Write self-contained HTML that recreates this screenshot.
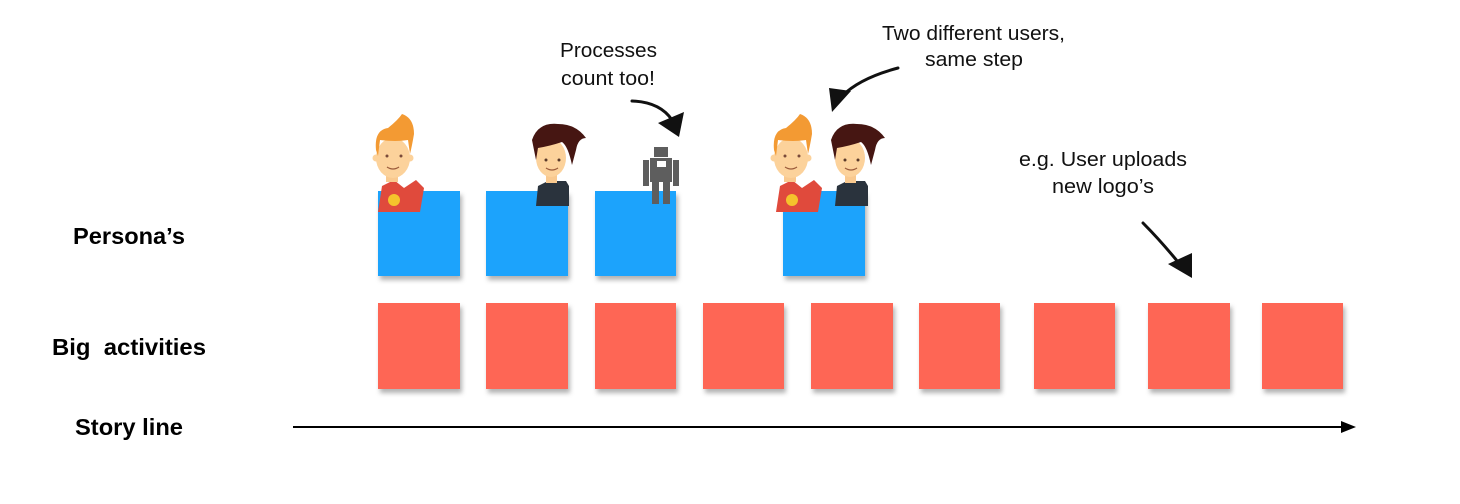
<!DOCTYPE html>
<html><head><meta charset="utf-8"><style>
html,body{margin:0;padding:0;background:#fff;}
svg{display:block;}
text{font-family:"Liberation Sans",sans-serif;}
</style></head><body>
<svg width="1460" height="504" viewBox="0 0 1460 504" xmlns="http://www.w3.org/2000/svg">
<defs>
<filter id="sh" x="-20%" y="-20%" width="150%" height="150%"><feDropShadow dx="2" dy="4" stdDeviation="2.5" flood-color="#000" flood-opacity="0.3"/></filter>
<g id="boy">
  <path d="M6 212 L10 186 L22 180 L32 188 L44 180 L52 188 L48 212 Z" fill="#e04a3c"/>
  <rect x="14" y="168" width="12" height="14" fill="#f9c98f"/>
  <ellipse cx="21" cy="158" rx="17" ry="20" fill="#fcd29b"/>
  <circle cx="4" cy="158" r="3.5" fill="#fcd29b"/><circle cx="38" cy="158" r="3.5" fill="#fcd29b"/>
  <path d="M4 150 Q2 130 16 128 Q26 120 30 114 Q42 118 42 134 Q40 146 38 154 L36 140 Q24 142 8 140 L6 156 Z" fill="#f39a33"/>
  <circle cx="15" cy="156" r="1.5" fill="#7a4a3a"/><circle cx="29" cy="156" r="1.5" fill="#7a4a3a"/>
  <path d="M15 167 Q21 171 27 167" stroke="#9a5a3a" stroke-width="1.2" fill="none"/>
  <circle cx="22" cy="200" r="6" fill="#f5c32c"/>
</g>
<g id="guy">
  <path d="M0 206 L2 186 L12 181 L30 181 L33 186 L33 206 Z" fill="#2a333d"/>
  <rect x="10" y="168" width="11" height="15" fill="#f9c98f"/>
  <ellipse cx="15" cy="158" rx="15" ry="19" fill="#fcd29b"/>
  <path d="M-4 140 Q2 122 22 124 Q40 124 50 138 Q42 138 40 150 L36 165 Q32 146 26 142 Q14 146 2 148 L0 160 Z" fill="#461612"/>
  <circle cx="10" cy="160" r="1.5" fill="#5a3a2a"/><circle cx="23" cy="160" r="1.5" fill="#5a3a2a"/>
  <path d="M10 168 Q16 172 22 168" stroke="#9a5a3a" stroke-width="1.2" fill="none"/>
</g>
</defs>

<text x="73" y="244" font-size="23" font-weight="bold" fill="#000" textLength="112" lengthAdjust="spacingAndGlyphs">Persona’s</text>
<text x="52" y="355" font-size="23" font-weight="bold" fill="#000" xml:space="preserve" textLength="154" lengthAdjust="spacingAndGlyphs">Big  activities</text>
<text x="75" y="435" font-size="23" font-weight="bold" fill="#000" textLength="108" lengthAdjust="spacingAndGlyphs">Story line</text>

<g font-size="20" fill="#111">
<text x="560" y="57" textLength="97" lengthAdjust="spacingAndGlyphs">Processes</text>
<text x="561" y="85" textLength="94" lengthAdjust="spacingAndGlyphs">count too!</text>
<text x="882" y="40" textLength="183" lengthAdjust="spacingAndGlyphs">Two different users,</text>
<text x="925" y="66" textLength="98" lengthAdjust="spacingAndGlyphs">same step</text>
<text x="1019" y="166" textLength="168" lengthAdjust="spacingAndGlyphs">e.g. User uploads</text>
<text x="1052" y="193" textLength="102" lengthAdjust="spacingAndGlyphs">new logo’s</text>
</g>

<g fill="#1ea3fc" filter="url(#sh)">
<rect x="378" y="191" width="82" height="85"/>
<rect x="486" y="191" width="82" height="85"/>
<rect x="595" y="191" width="81" height="85"/>
<rect x="783" y="191" width="82" height="85"/>
</g>

<g fill="#fe6655" filter="url(#sh)">
<rect x="378" y="303" width="82" height="86"/>
<rect x="486" y="303" width="82" height="86"/>
<rect x="595" y="303" width="81" height="86"/>
<rect x="703" y="303" width="81" height="86"/>
<rect x="811" y="303" width="82" height="86"/>
<rect x="919" y="303" width="81" height="86"/>
<rect x="1034" y="303" width="81" height="86"/>
<rect x="1148" y="303" width="82" height="86"/>
<rect x="1262" y="303" width="81" height="86"/>
</g>

<use href="#boy" transform="translate(372,0)"/>
<use href="#guy" transform="translate(536,0)"/>
<use href="#boy" transform="translate(770,0)"/>
<use href="#guy" transform="translate(835,0)"/>

<g fill="#5e5e5e">
<rect x="654" y="147" width="14" height="10"/>
<rect x="650" y="158" width="22" height="24"/>
<rect x="643" y="160" width="6" height="26"/>
<rect x="673" y="160" width="6" height="26"/>
<rect x="652" y="182" width="7" height="22"/>
<rect x="663" y="182" width="7" height="22"/>
<rect x="657" y="161" width="9" height="6" fill="#fff"/>
</g>

<g stroke="#111" stroke-width="3" fill="none" stroke-linecap="round">
<path d="M632 101 Q660 102 672 120"/>
<path d="M898 68 Q860 78 842 96"/>
<path d="M1143 223 Q1160 240 1178 262"/>
</g>
<g fill="#111">
<polygon points="658,123 684,112 679,137"/>
<polygon points="851,91 832,112 829,88"/>
<polygon points="1168,264 1192,253 1192,278"/>
</g>

<line x1="293" y1="427" x2="1343" y2="427" stroke="#000" stroke-width="2"/>
<polygon points="1356,427 1341,421 1341,433" fill="#000"/>
</svg>
</body></html>
